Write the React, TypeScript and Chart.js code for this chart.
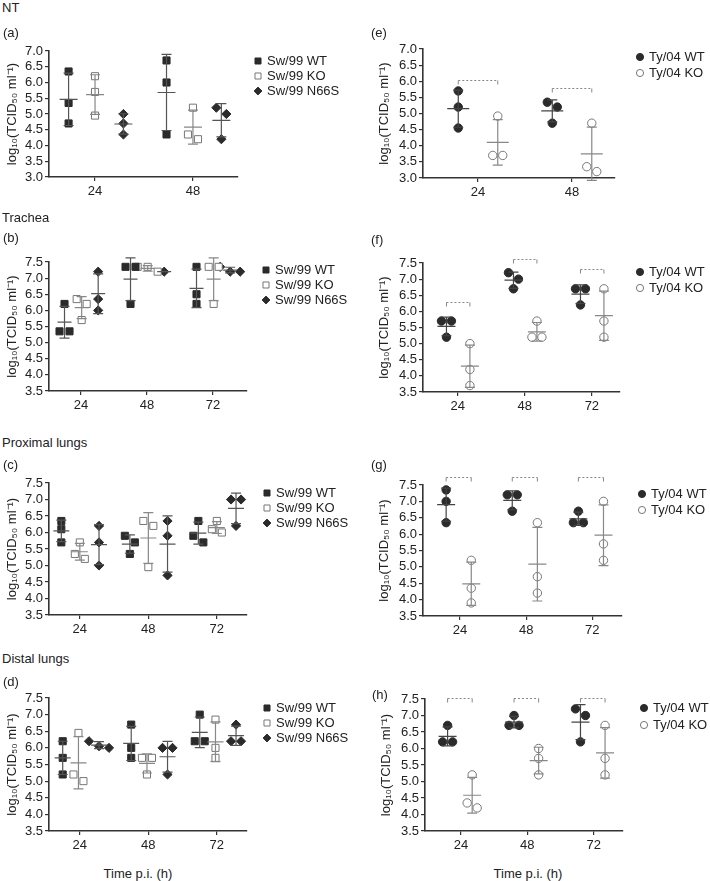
import React, { useEffect, useRef } from 'react';
import { Chart, registerables } from 'chart.js';
Chart.register(...registerables);

// ---------------- DATA ----------------
const TIMES_2 = ['24', '48'];
const TIMES_3 = ['24', '48', '72'];
const Y_RANGE_NT = [3.0, 7.0];
const Y_RANGE_LUNG = [3.5, 7.5];
const Y_STEP = 0.5;
const Y_TITLE = 'log\u2081\u2080(TCID\u2085\u2080 ml\u207B\u00B9)';
const X_TITLE = 'Time p.i. (h)';

const SW_LABELS = ['Sw/99 WT', 'Sw/99 KO', 'Sw/99 N66S'];
const TY_LABELS = ['Ty/04 WT', 'Ty/04 KO'];

// (a) NT, Sw/99 (one inner list per time point)
const A_SW_WT = [[6.35, 5.35, 4.7], [6.7, 6.0, 4.35]];
const A_SW_KO = [[6.2, 5.7, 4.95], [5.2, 4.2, 4.35]];
const A_SW_N66S = [[5.0, 4.7, 4.35], [5.2, 5.0, 4.2]];
// (b) Trachea, Sw/99
const B_SW_WT = [[6.2, 5.35, 5.35], [7.35, 7.35, 6.2], [7.35, 6.5, 6.2]];
const B_SW_KO = [[6.35, 6.2, 5.7], [7.35, 7.35, 7.2], [7.35, 7.35, 6.2]];
const B_SW_N66S = [[7.2, 6.35, 6.0], [7.2], [7.35, 7.2, 7.2]];
// (c) Proximal lungs, Sw/99
const C_SW_WT = [[6.35, 6.1, 5.7], [5.9, 5.7, 5.35], [6.35, 5.9, 5.7]];
const C_SW_KO = [[5.7, 5.35, 5.2], [6.35, 6.2, 4.95], [6.35, 6.1, 6.0]];
const C_SW_N66S = [[6.2, 5.7, 5.0], [6.35, 5.9, 4.7], [7.0, 7.0, 6.2]];
// (d) Distal lungs, Sw/99
const D_SW_WT = [[6.2, 5.7, 5.2], [6.7, 6.0, 5.7], [7.0, 6.2, 6.2]];
const D_SW_KO = [[6.45, 5.2, 5.0], [5.7, 5.7, 5.2], [6.85, 6.0, 5.7]];
const D_SW_N66S = [[6.2, 6.05, 6.0], [6.0, 6.0, 5.2], [6.7, 6.2, 6.2]];
// (e) NT, Ty/04
const E_TY_WT = [[5.7, 5.2, 4.55], [5.35, 5.2, 4.7]];
const E_TY_KO = [[4.92, 3.7, 3.7], [4.7, 3.35, 3.2]];
const E_BRACKETS = [6.04, 5.79];
// (f) Trachea, Ty/04
const F_TY_WT = [[5.7, 5.7, 5.2], [7.2, 7.0, 6.7], [6.7, 6.7, 6.2]];
const F_TY_KO = [[5.0, 4.2, 3.7], [5.7, 5.2, 5.2], [6.7, 5.7, 5.2]];
const F_BRACKETS = [6.29, 7.62, 7.31];
// (g) Proximal lungs, Ty/04
const G_TY_WT = [[7.35, 7.0, 6.35], [7.2, 7.2, 6.7], [6.7, 6.35, 6.35]];
const G_TY_KO = [[5.2, 4.35, 3.9], [6.35, 4.7, 4.2], [7.0, 5.7, 5.2]];
const G_BRACKETS = [7.75, 7.75, 7.75];
// (h) Distal lungs, Ty/04
const H_TY_WT = [[6.7, 6.2, 6.2], [7.0, 6.7, 6.7], [7.2, 7.0, 6.2]];
const H_TY_KO = [[5.2, 4.35, 4.2], [6.0, 5.7, 5.2], [6.7, 5.7, 5.2]];
const H_BRACKETS = [7.52, 7.52, 7.52];

// ---------------- STYLE / LAYOUT ----------------
const FONT = '"Liberation Sans", Arial, Helvetica, sans-serif';
const INK = '#222';
type Kind = 'sqFill' | 'sqOpen' | 'diamond' | 'dotFill' | 'dotOpen';
const STYLE: Record<Kind, any> = {
  sqFill: { shape: 'rect', radius: 5.0, fill: '#2b2b2b', border: '#2b2b2b', bar: '#555' },
  sqOpen: { shape: 'rect', radius: 5.0, fill: '#ffffff', border: '#777', bar: '#888' },
  diamond: { shape: 'rectRot', radius: 4.6, fill: '#2b2b2b', border: '#2b2b2b', bar: '#555' },
  dotFill: { shape: 'circle', radius: 4.2, fill: '#2b2b2b', border: '#2b2b2b', bar: '#444' },
  dotOpen: { shape: 'circle', radius: 4.2, fill: '#ffffff', border: '#777', bar: '#888' },
};
const SW_KINDS: Kind[] = ['sqFill', 'sqOpen', 'diamond'];
const TY_KINDS: Kind[] = ['dotFill', 'dotOpen'];

type Panel = {
  cats: string[];
  yRange: number[];
  groups: number[][][];
  labels: string[];
  kinds: Kind[];
  brackets?: number[];
  frame: number[]; // left, top, width, height
  area: number[]; // left, top, right, bottom
  xRange: number[];
  offsets: number[];
  titlePad: number;
  legend: number[]; // dx, dy, gap
  meanHalf: number;
};

const PANELS: Panel[] = [
  { cats: TIMES_2, yRange: Y_RANGE_NT, groups: [A_SW_WT, A_SW_KO, A_SW_N66S], labels: SW_LABELS, kinds: SW_KINDS,
    frame: [0, 40, 355, 165], area: [49, 51, 238, 177], xRange: [-0.47, 1.46], offsets: [-0.27, 0.0, 0.29],
    titlePad: 5, legend: [20, 10, 15], meanHalf: 9 },
  { cats: TIMES_3, yRange: Y_RANGE_LUNG, groups: [B_SW_WT, B_SW_KO, B_SW_N66S], labels: SW_LABELS, kinds: SW_KINDS,
    frame: [0, 245, 355, 170], area: [49, 262, 247, 391], xRange: [-0.485, 2.515], offsets: [-0.25, 0.01, 0.26],
    titlePad: 5, legend: [19, 8, 15], meanHalf: 7 },
  { cats: TIMES_3, yRange: Y_RANGE_LUNG, groups: [C_SW_WT, C_SW_KO, C_SW_N66S], labels: SW_LABELS, kinds: SW_KINDS,
    frame: [0, 462, 355, 178], area: [49, 483, 247, 615], xRange: [-0.45, 2.44], offsets: [-0.27, 0.0, 0.28],
    titlePad: 5, legend: [20, 10, 15], meanHalf: 8 },
  { cats: TIMES_3, yRange: Y_RANGE_LUNG, groups: [D_SW_WT, D_SW_KO, D_SW_N66S], labels: SW_LABELS, kinds: SW_KINDS,
    frame: [0, 680, 355, 180], area: [49, 698, 247, 831], xRange: [-0.45, 2.44], offsets: [-0.25, -0.02, 0.28],
    titlePad: 5, legend: [20, 10, 15], meanHalf: 8 },
  { cats: TIMES_2, yRange: Y_RANGE_NT, groups: [E_TY_WT, E_TY_KO], labels: TY_LABELS, kinds: TY_KINDS, brackets: E_BRACKETS,
    frame: [355, 38, 355, 167], area: [423, 49, 615, 178], xRange: [-0.585, 1.457], offsets: [-0.21, 0.21],
    titlePad: 22, legend: [25, 8, 16], meanHalf: 11 },
  { cats: TIMES_3, yRange: Y_RANGE_LUNG, groups: [F_TY_WT, F_TY_KO], labels: TY_LABELS, kinds: TY_KINDS, brackets: F_BRACKETS,
    frame: [355, 245, 355, 170], area: [423, 263, 620, 392], xRange: [-0.52, 2.42], offsets: [-0.17, 0.18],
    titlePad: 22, legend: [20, 9, 16], meanHalf: 9 },
  { cats: TIMES_3, yRange: Y_RANGE_LUNG, groups: [G_TY_WT, G_TY_KO], labels: TY_LABELS, kinds: TY_KINDS, brackets: G_BRACKETS,
    frame: [355, 462, 355, 178], area: [423, 485, 622, 616], xRange: [-0.56, 2.45], offsets: [-0.21, 0.17],
    titlePad: 22, legend: [20, 9, 16], meanHalf: 9 },
  { cats: TIMES_3, yRange: Y_RANGE_LUNG, groups: [H_TY_WT, H_TY_KO], labels: TY_LABELS, kinds: TY_KINDS, brackets: H_BRACKETS,
    frame: [355, 680, 355, 180], area: [425, 699, 623, 831], xRange: [-0.54, 2.44], offsets: [-0.2, 0.17],
    titlePad: 24, legend: [21, 9, 17], meanHalf: 9 },
];

const TEXTS: { text: string; left: number; top: number; center?: boolean }[] = [
  { text: 'NT', left: 2, top: 0 },
  { text: '(a)', left: 3, top: 25 },
  { text: 'Trachea', left: 2, top: 210 },
  { text: '(b)', left: 3, top: 230 },
  { text: 'Proximal lungs', left: 2, top: 435 },
  { text: '(c)', left: 3, top: 457 },
  { text: 'Distal lungs', left: 2, top: 651 },
  { text: '(d)', left: 3, top: 674 },
  { text: '(e)', left: 371, top: 25 },
  { text: '(f)', left: 371, top: 232 },
  { text: '(g)', left: 371, top: 457 },
  { text: '(h)', left: 372, top: 687 },
  { text: X_TITLE, left: 138, top: 866, center: true },
  { text: X_TITLE, left: 528, top: 866, center: true },
];

// ---------------- HELPERS ----------------
const DODGE_PX = 10;
function dodgeFor(vals: number[]): number[] {
  const order = vals.map((v, i) => i).sort((a, b) => vals[b] - vals[a]);
  const rows: number[][] = [];
  order.forEach((idx) => {
    const row = rows[rows.length - 1];
    if (row && vals[row[row.length - 1]] - vals[idx] < 0.21) row.push(idx);
    else rows.push([idx]);
  });
  const out = vals.map(() => 0);
  rows.forEach((row) => row.forEach((idx, j) => { out[idx] = (j - (row.length - 1) / 2) * DODGE_PX; }));
  return out;
}

function drawMarker(ctx: CanvasRenderingContext2D, kind: Kind, x: number, y: number, scale = 1) {
  const st = STYLE[kind];
  const r = st.radius * scale;
  ctx.save();
  ctx.fillStyle = st.fill;
  ctx.strokeStyle = st.border;
  ctx.lineWidth = 1;
  ctx.beginPath();
  if (st.shape === 'rect') {
    const h = r * Math.SQRT1_2;
    ctx.rect(x - h, y - h, 2 * h, 2 * h);
  } else if (st.shape === 'rectRot') {
    ctx.moveTo(x - r, y); ctx.lineTo(x, y - r); ctx.lineTo(x + r, y); ctx.lineTo(x, y + r); ctx.closePath();
  } else {
    ctx.arc(x, y, r, 0, Math.PI * 2);
  }
  ctx.fill();
  ctx.stroke();
  ctx.restore();
}

function buildChart(canvas: HTMLCanvasElement, p: Panel) {
  const [fl, ft, fw, fh] = p.frame;
  const [al, at, ar, ab] = p.area;
  const datasets = p.groups.map((groups, si) => {
    const st = STYLE[p.kinds[si]];
    const data: { x: number; y: number }[] = [];
    const dodge: number[] = [];
    groups.forEach((vals, gi) => {
      const d = dodgeFor(vals);
      vals.forEach((v, k) => { data.push({ x: gi + p.offsets[si], y: v }); dodge.push(d[k]); });
    });
    return {
      label: p.labels[si], data, dodge, showLine: false, clip: false,
      pointStyle: st.shape, pointRadius: st.radius, pointHoverRadius: st.radius,
      pointBackgroundColor: st.fill, pointBorderColor: st.border, pointBorderWidth: 1,
    };
  });

  const plugin = {
    id: 'panelExtras',
    afterDatasetsUpdate(chart: any) {
      chart.data.datasets.forEach((ds: any, i: number) => {
        const meta = chart.getDatasetMeta(i);
        meta.data.forEach((el: any, j: number) => { el.x += ds.dodge[j] || 0; });
      });
    },
    afterDatasetsDraw(chart: any) {
      const ctx = chart.ctx as CanvasRenderingContext2D;
      const xs = chart.scales.x, ys = chart.scales.y;
      p.groups.forEach((groups, si) => {
        ctx.save();
        ctx.strokeStyle = STYLE[p.kinds[si]].bar;
        ctx.lineWidth = 1.2;
        groups.forEach((vals, gi) => {
          const n = vals.length;
          const m = vals.reduce((a, b) => a + b, 0) / n;
          const sd = n > 1 ? Math.sqrt(vals.reduce((a, b) => a + (b - m) * (b - m), 0) / (n - 1)) : 0;
          const cx = xs.getPixelForValue(gi + p.offsets[si]);
          const yT = ys.getPixelForValue(m + sd), yB = ys.getPixelForValue(m - sd), yM = ys.getPixelForValue(m);
          const cap = 5;
          ctx.beginPath();
          ctx.moveTo(cx, yT); ctx.lineTo(cx, yB);
          ctx.moveTo(cx - cap, yT); ctx.lineTo(cx + cap, yT);
          ctx.moveTo(cx - cap, yB); ctx.lineTo(cx + cap, yB);
          ctx.moveTo(cx - p.meanHalf, yM); ctx.lineTo(cx + p.meanHalf, yM);
          ctx.stroke();
        });
        ctx.restore();
      });
    },
    afterDraw(chart: any) {
      const ctx = chart.ctx as CanvasRenderingContext2D;
      const xs = chart.scales.x, ys = chart.scales.y;
      const ca = chart.chartArea;
      if (p.brackets) {
        ctx.save();
        ctx.strokeStyle = '#888';
        ctx.lineWidth = 1;
        p.brackets.forEach((b, gi) => {
          const x1 = xs.getPixelForValue(gi + p.offsets[0]);
          const x2 = xs.getPixelForValue(gi + p.offsets[1]);
          const y = Math.round(ys.getPixelForValue(b)) + 0.5;
          ctx.setLineDash([2, 2]);
          ctx.beginPath(); ctx.moveTo(x1, y); ctx.lineTo(x2, y); ctx.stroke();
          ctx.setLineDash([]);
          ctx.beginPath();
          ctx.moveTo(x1, y); ctx.lineTo(x1, y + 4);
          ctx.moveTo(x2, y); ctx.lineTo(x2, y + 4);
          ctx.stroke();
        });
        ctx.restore();
      }
      const [dx, dy, gap] = p.legend;
      ctx.save();
      ctx.font = `13px ${FONT}`;
      ctx.textBaseline = 'middle';
      p.labels.forEach((lab, i) => {
        const x = ca.right + dx, y = ca.top + dy + i * gap;
        drawMarker(ctx, p.kinds[i], x, y, 0.85);
        ctx.fillStyle = INK;
        ctx.fillText(lab, x + 9, y + 0.5);
      });
      ctx.restore();
    },
  };

  const tickFont = { family: FONT, size: 13 };
  return new Chart(canvas, {
    type: 'scatter',
    data: { datasets: datasets as any },
    plugins: [plugin],
    options: {
      animation: false,
      responsive: false,
      maintainAspectRatio: false,
      devicePixelRatio: 1,
      events: [],
      layout: { padding: { left: 0, top: at - ft, right: fl + fw - ar, bottom: 0 } },
      plugins: { legend: { display: false }, tooltip: { enabled: false }, title: { display: false } },
      scales: {
        x: {
          type: 'linear',
          min: p.xRange[0],
          max: p.xRange[1],
          afterFit: (s: any) => { s.height = ft + fh - ab; },
          afterBuildTicks: (s: any) => { s.ticks = p.cats.map((_, i) => ({ value: i })); },
          ticks: {
            autoSkip: false, maxRotation: 0, padding: 3, color: INK, font: tickFont,
            callback: (v: any) => p.cats[Math.round(Number(v))] ?? '',
          },
          grid: { display: true, drawOnChartArea: false, drawTicks: true, tickLength: 4, color: '#333', lineWidth: 1.2 },
          border: { display: true, color: '#333', width: 1.6 },
        },
        y: {
          type: 'linear',
          min: p.yRange[0],
          max: p.yRange[1],
          afterFit: (s: any) => { s.width = al - fl; },
          ticks: {
            stepSize: Y_STEP, autoSkip: false, padding: 2, color: INK, font: tickFont,
            callback: (v: any) => Number(v).toFixed(1),
          },
          grid: { display: true, drawOnChartArea: false, drawTicks: true, tickLength: 4, color: '#333', lineWidth: 1.2 },
          border: { display: true, color: '#333', width: 1.6 },
          title: { display: true, text: Y_TITLE, color: INK, font: { family: FONT, size: 13 }, padding: { top: p.titlePad, bottom: 0 } },
        },
      },
    } as any,
  });
}

function PanelChart({ p }: { p: Panel }) {
  const ref = useRef<HTMLCanvasElement>(null);
  useEffect(() => {
    if (!ref.current) return;
    const chart = buildChart(ref.current, p);
    return () => chart.destroy();
  }, [p]);
  const [l, t, w, h] = p.frame;
  return (
    <canvas ref={ref} width={w} height={h}
      style={{ position: 'absolute', left: l, top: t, width: w, height: h }} />
  );
}

export default function App() {
  return (
    <div style={{ position: 'absolute', left: 0, top: 0, width: 710, height: 881, background: '#fff', overflow: 'hidden' }}>
      {PANELS.map((p, i) => <PanelChart key={i} p={p} />)}
      {TEXTS.map((t, i) => (
        <div key={'t' + i} style={{
          position: 'absolute', left: t.left, top: t.top, font: `13px ${FONT}`, lineHeight: '16px', color: INK,
          whiteSpace: 'nowrap', transform: t.center ? 'translateX(-50%)' : undefined,
        }}>{t.text}</div>
      ))}
    </div>
  );
}
